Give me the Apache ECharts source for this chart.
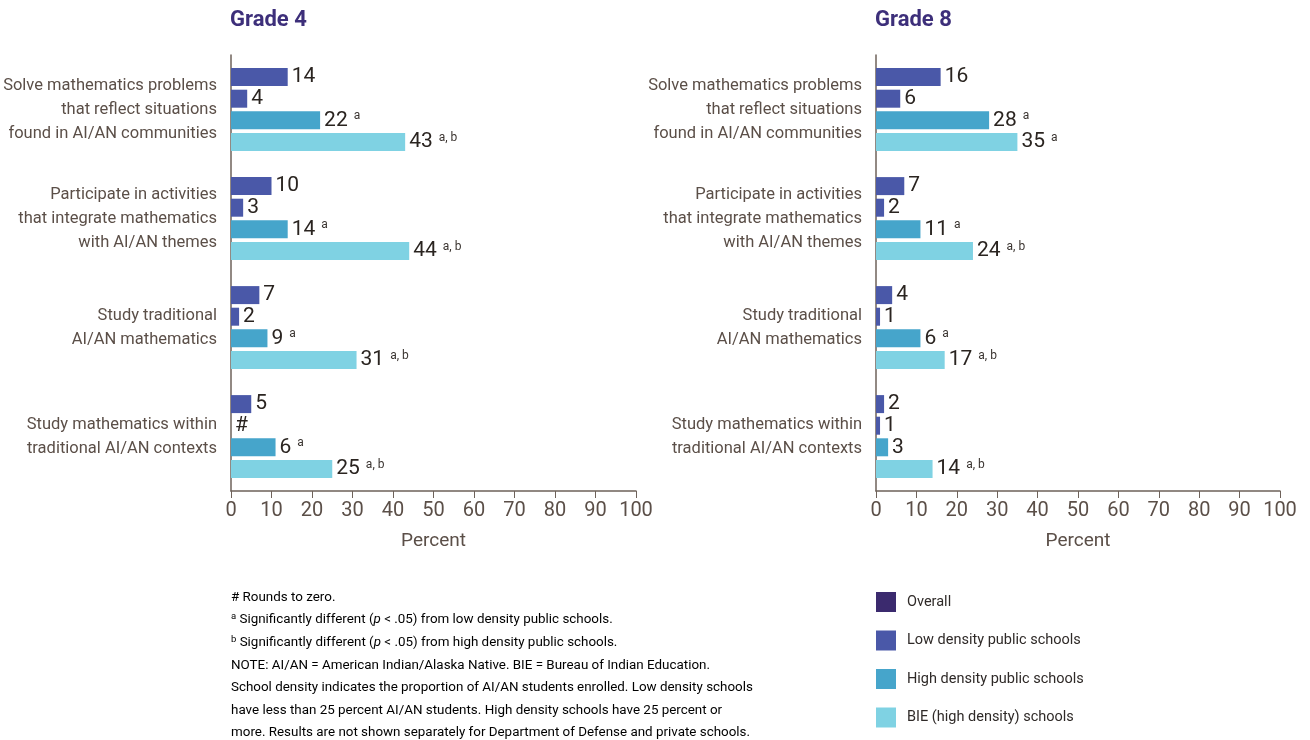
<!DOCTYPE html>
<html><head><meta charset="utf-8">
<script src="https://cdn.jsdelivr.net/npm/echarts@6/dist/echarts.min.js"></script>
<style>html,body{margin:0;padding:0;background:#fff}#c{width:1310px;height:740px}</style>
</head><body><div id="c"></div>
<script>
const categories = [
  'Solve mathematics problems\nthat reflect situations\nfound in AI/AN communities',
  'Participate in activities\nthat integrate mathematics\nwith AI/AN themes',
  'Study traditional\nAI/AN mathematics',
  'Study mathematics within\ntraditional AI/AN contexts'
];
const seriesNames = ['Overall', 'Low density public schools', 'High density public schools', 'BIE (high density) schools'];
const xTicks = [0, 10, 20, 30, 40, 50, 60, 70, 80, 90, 100];

// Grade 4 (bar lengths as drawn)
const g4Overall = [14, 10, 7, 5];
const g4Low = [4, 3, 2, 0];
const g4High = [22, 14, 9, 11];
const g4Bie = [43, 44, 31, 25];
// Grade 4 printed labels and notes
const g4OverallLbl = ['14', '10', '7', '5'];
const g4LowLbl = ['4', '3', '2', '#'];
const g4HighLbl = ['22', '14', '9', '6'];
const g4BieLbl = ['43', '44', '31', '25'];
const g4OverallNote = ['', '', '', ''];
const g4LowNote = ['', '', '', ''];
const g4HighNote = ['a', 'a', 'a', 'a'];
const g4BieNote = ['a, b', 'a, b', 'a, b', 'a, b'];

// Grade 8
const g8Overall = [16, 7, 4, 2];
const g8Low = [6, 2, 1, 1];
const g8High = [28, 11, 11, 3];
const g8Bie = [35, 24, 17, 14];
const g8OverallLbl = ['16', '7', '4', '2'];
const g8LowLbl = ['6', '2', '1', '1'];
const g8HighLbl = ['28', '11', '6', '3'];
const g8BieLbl = ['35', '24', '17', '14'];
const g8OverallNote = ['', '', '', ''];
const g8LowNote = ['', '', '', ''];
const g8HighNote = ['a', 'a', 'a', ''];
const g8BieNote = ['a', 'a, b', 'a, b', 'a, b'];

const FONT = "Roboto, sans-serif";
const barColors = ['#4a58a8', '#4a58a8', '#46a5cb', '#7fd2e3'];
const legendColors = ['#3b2a6e', '#4a58a8', '#46a5cb', '#7fd2e3'];
const axisColor = '#6e625a';
const textColor = '#5b4f48';

const grids = [
  { left: 231, top: 55, width: 405, height: 436, containLabel: false, outerBoundsMode: 'none' },
  { left: 876, top: 55, width: 404, height: 436, containLabel: false, outerBoundsMode: 'none' }
];

function xAxis(gi) {
  return {
    type: 'value', gridIndex: gi, min: 0, max: 100, interval: 10,
    name: 'Percent', nameLocation: 'middle', nameGap: 41,
    nameTextStyle: { fontFamily: FONT, fontSize: 19, color: textColor },
    axisLine: { show: true, lineStyle: { color: axisColor, width: 1.5 } },
    axisTick: { show: true, length: 7, lineStyle: { color: axisColor } },
    axisLabel: { fontFamily: FONT, fontSize: 20, color: textColor, margin: 10,
      formatter: v => xTicks.includes(v) ? String(v) : '' },
    splitLine: { show: false }
  };
}
function yAxis(gi) {
  return {
    type: 'category', gridIndex: gi, data: categories, inverse: true,
    axisLine: { show: true, lineStyle: { color: axisColor, width: 1.5 } },
    axisTick: { show: false },
    axisLabel: { fontFamily: FONT, fontSize: 16.5, color: textColor, lineHeight: 24, margin: 14, align: 'right' }
  };
}

function makeSeries(gi, vals, lbls, notes, si) {
  return {
    type: 'bar', name: seriesNames[si], xAxisIndex: gi, yAxisIndex: gi,
    data: vals, barWidth: 18, barGap: '20%',
    itemStyle: { color: barColors[si] },
    label: {
      show: true, position: 'right', distance: 4,
      formatter: p => {
        const n = notes[p.dataIndex];
        return '{v|' + lbls[p.dataIndex] + '}' + (n ? '{s|' + n + '}' : '');
      },
      rich: {
        v: { fontFamily: FONT, fontSize: 21, color: '#2a2420' },
        s: { fontFamily: FONT, fontSize: 12, color: '#3a3430', padding: [0, 0, 8, 6] }
      }
    },
    emphasis: { disabled: true }
  };
}

const series = [
  makeSeries(0, g4Overall, g4OverallLbl, g4OverallNote, 0),
  makeSeries(0, g4Low, g4LowLbl, g4LowNote, 1),
  makeSeries(0, g4High, g4HighLbl, g4HighNote, 2),
  makeSeries(0, g4Bie, g4BieLbl, g4BieNote, 3),
  makeSeries(1, g8Overall, g8OverallLbl, g8OverallNote, 0),
  makeSeries(1, g8Low, g8LowLbl, g8LowNote, 1),
  makeSeries(1, g8High, g8HighLbl, g8HighNote, 2),
  makeSeries(1, g8Bie, g8BieLbl, g8BieNote, 3)
];

const noteText = [
  '{t|# Rounds to zero.}',
  '{sup|a}{t| Significantly different (}{i|p}{t| < .05) from low density public schools.}',
  '{sup|b}{t| Significantly different (}{i|p}{t| < .05) from high density public schools.}',
  '{t|NOTE: AI/AN = American Indian/Alaska Native. BIE = Bureau of Indian Education.}',
  '{t|School density indicates the proportion of AI/AN students enrolled. Low density schools}',
  '{t|have less than 25 percent AI/AN students. High density schools have 25 percent or}',
  '{t|more. Results are not shown separately for Department of Defense and private schools.}'
].join('\n');

const option = {
  backgroundColor: '#fff',
  animation: false,
  title: [
    { text: 'Grade 4', left: 230, top: 9, padding: 0, textStyle: { fontFamily: FONT, fontWeight: 'bold', fontSize: 22, color: '#3d2f7a' } },
    { text: 'Grade 8', left: 875, top: 9, padding: 0, textStyle: { fontFamily: FONT, fontWeight: 'bold', fontSize: 22, color: '#3d2f7a' } }
  ],
  legend: {
    orient: 'vertical', left: 876, top: 592, padding: 0, itemWidth: 20, itemHeight: 20, itemGap: 18.5,
    icon: 'rect', selectedMode: false,
    textStyle: { fontFamily: FONT, fontSize: 14.5, color: '#2f2a28', padding: [0, 0, 0, 6] },
    data: seriesNames.map((n, i) => ({ name: n, itemStyle: { color: legendColors[i] } }))
  },
  grid: grids,
  xAxis: [xAxis(0), xAxis(1)],
  yAxis: [yAxis(0), yAxis(1)],
  series: series,
  graphic: [{
    type: 'text', left: 231, top: 591,
    style: {
      text: noteText,
      rich: {
        t: { fontFamily: FONT, fontSize: 13.4, color: '#2f2a28', lineHeight: 22.6 },
        i: { fontFamily: FONT, fontSize: 13.4, fontStyle: 'italic', color: '#2f2a28', lineHeight: 22.6 },
        sup: { fontFamily: FONT, fontSize: 9.5, color: '#2f2a28', lineHeight: 22.6, padding: [0, 0, 7, 0] }
      }
    }
  }]
};

const chart = echarts.init(document.getElementById('c'), null, { renderer: 'canvas' });
chart.setOption(option);
</script>
</body></html>
